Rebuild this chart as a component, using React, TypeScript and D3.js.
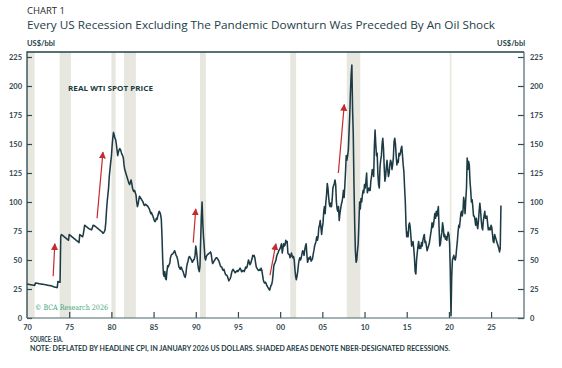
import React, { useRef, useEffect } from "react";
import * as d3 from "d3";

// real WTI spot price, US$/bbl (Jan 2026 dollars), monthly
const wti1970s = [
  29.2, 29.1, 29.0, 28.9, 28.8, 28.7, 28.6, 28.5, 28.4, 28.3, 28.2, 28.1,
  30.2, 30.1, 30.0, 29.9, 29.8, 29.6, 29.5, 29.4, 29.3, 29.2, 29.1, 29.0,
  28.9, 28.8, 28.7, 28.6, 28.5, 28.3, 28.2, 28.1, 28.0, 27.9, 27.8, 27.6,
  27.4, 27.2, 27.0, 26.8, 26.6, 26.5, 26.3, 26.2, 31.5, 31.3, 31.0, 30.8,
  70.5, 72.0, 71.5, 71.0, 70.5, 70.0, 69.5, 69.0, 68.5, 68.0, 67.5, 67.0,
  72.0, 71.5, 71.0, 70.5, 70.0, 69.5, 69.0, 68.5, 68.0, 67.5, 67.0, 66.5,
  66.0, 65.5, 65.0, 72.0, 71.5, 71.0, 70.5, 70.0, 72.0, 76.0, 80.0, 79.5,
  79.0, 78.5, 78.0, 77.5, 77.0, 76.8, 76.5, 76.2, 76.0, 78.0, 80.0, 79.8,
  79.5, 79.0, 78.5, 78.0, 77.5, 77.0, 76.5, 76.0, 75.5, 75.0, 74.5, 74.0,
  73.0, 73.5, 74.5, 76.0, 82.0, 92.0, 100, 106, 112, 122, 128, 134,
];
const wti1980s = [
  139, 148, 155, 160, 158, 155, 154, 150, 145, 140, 143, 145,
  146, 145, 143, 141, 140, 138, 132, 128, 126, 124, 122, 120,
  118, 116, 115, 117, 119, 116, 112, 110, 109, 110, 108, 106,
  100, 96, 98, 102, 105, 104, 103, 102, 101, 100, 98, 97,
  98, 98, 97, 97, 96, 95, 94, 92, 90, 91, 89, 88,
  86, 84, 83, 84, 86, 85, 88, 90, 92, 91, 89, 85,
  70, 50, 38, 36, 40, 34, 33, 40, 45, 44, 46, 47,
  52, 54, 55, 55, 56, 57, 58, 56, 54, 53, 51, 48,
  44, 43, 42, 44, 43, 41, 40, 38, 36, 35, 38, 44,
  47, 49, 52, 53, 52, 51, 50, 48, 49, 50, 51, 54,
];
const wti1990s = [
  62, 58, 52, 46, 42, 40, 45, 68, 88, 100, 82, 70,
  62, 52, 50, 53, 54, 55, 55, 56, 56, 57, 55, 50,
  47, 48, 49, 50, 51, 52, 52, 51, 50, 49, 47, 45,
  44, 44, 42, 41, 42, 40, 38, 37, 37, 36, 34, 32,
  33, 34, 36, 39, 41, 42, 41, 40, 39, 40, 40, 41,
  40, 41, 42, 43, 42, 40, 40, 41, 41, 40, 42, 44,
  43, 44, 47, 50, 48, 46, 47, 49, 51, 54, 53, 54,
  52, 48, 44, 43, 42, 41, 41, 42, 41, 43, 41, 37,
  33, 31, 30, 31, 30, 28, 27, 26, 25, 24, 26, 28,
  29, 32, 38, 45, 47, 48, 50, 53, 55, 56, 58, 59,
];
const wti2000s = [
  60, 62, 64, 56, 60, 64, 62, 63, 67, 65, 66, 56,
  55, 55, 52, 53, 56, 54, 52, 53, 50, 42, 36, 33,
  36, 40, 46, 50, 52, 50, 52, 55, 58, 57, 54, 59,
  62, 64, 55, 48, 50, 52, 51, 53, 49, 50, 51, 55,
  58, 62, 64, 66, 70, 67, 70, 78, 80, 84, 78, 72,
  78, 82, 92, 96, 90, 100, 106, 116, 112, 104, 98, 96,
  99, 96, 102, 112, 114, 116, 119, 115, 100, 94, 92, 96,
  84, 90, 94, 98, 100, 104, 110, 104, 114, 126, 140, 136,
  140, 145, 160, 175, 195, 210, 218, 180, 158, 115, 82, 58,
  48, 50, 58, 64, 82, 100, 94, 103, 100, 106, 110, 108,
];
const wti2010s = [
  115, 112, 118, 125, 108, 110, 112, 110, 110, 118, 122, 128,
  126, 122, 148, 162, 150, 140, 142, 124, 115, 112, 130, 136,
  140, 150, 155, 146, 130, 118, 122, 130, 136, 128, 122, 125,
  132, 136, 134, 128, 132, 138, 152, 155, 150, 140, 132, 136,
  134, 142, 140, 142, 146, 148, 140, 132, 126, 112, 100, 80,
  70, 74, 70, 80, 82, 78, 70, 62, 64, 66, 60, 52,
  40, 38, 50, 56, 62, 66, 60, 62, 60, 65, 62, 67,
  70, 72, 65, 66, 62, 58, 60, 62, 64, 68, 72, 76,
  82, 78, 80, 85, 90, 86, 92, 88, 92, 96, 78, 62,
  64, 70, 74, 82, 78, 70, 72, 68, 70, 67, 71, 74,
];
const wti2020s = [
  72, 64, 40, 2, 36, 50, 52, 54, 51, 50, 53, 60,
  66, 74, 80, 78, 84, 90, 92, 88, 92, 104, 100, 90,
  102, 112, 138, 128, 135, 132, 118, 110, 100, 102, 96, 88,
  88, 85, 80, 86, 80, 77, 84, 92, 99, 93, 84, 78,
  76, 84, 88, 92, 86, 86, 88, 82, 76, 78, 76, 76,
  80, 78, 72, 66, 65, 72, 70, 68, 66, 64, 62, 60,
  57, 60, 97,
];
const decades = [
  { start: 1970, values: wti1970s },
  { start: 1980, values: wti1980s },
  { start: 1990, values: wti1990s },
  { start: 2000, values: wti2000s },
  { start: 2010, values: wti2010s },
  { start: 2020, values: wti2020s },
];

// NBER recessions, start/end as decimal years
const recessions = [
  [1970.0, 1970.9], [1973.87, 1975.2], [1980.0, 1980.5], [1981.5, 1982.9],
  [1990.5, 1991.2], [2001.2, 2001.9], [2007.9, 2009.5], [2020.1, 2020.3],
];

// red oil-shock arrows: [year0, value0, year1, value1]
const shockArrows = [
  [1973.1, 36, 1973.3, 64],
  [1978.3, 86, 1979.0, 143],
  [1989.7, 65, 1990.0, 94],
  [1998.8, 37, 1999.5, 64],
  [2006.9, 125, 2007.6, 184],
];

const yTicks = [0, 25, 50, 75, 100, 125, 150, 175, 200, 225];
const xTicks = [1970, 1975, 1980, 1985, 1990, 1995, 2000, 2005, 2010, 2015, 2020, 2025];

const W = 562, H = 368;
const LEFT = 27, RIGHT = 524, TOP = 52, BOTTOM = 318;

export default function App() {
  const svgRef = useRef<SVGSVGElement>(null);

  useEffect(() => {
    const svg = d3.select(svgRef.current);
    svg.selectAll("*").remove();

    const series = decades.flatMap((d) =>
      d.values.map((v, i) => ({ t: d.start + i / 12, v }))
    );

    const x = d3.scaleLinear().domain([1970, 2028.9]).range([LEFT, RIGHT]);
    const y = d3.scaleLinear().domain([0, 225]).range([BOTTOM, 57]);

    const axisFont = "Lato, 'DejaVu Sans', sans-serif";
    const dark = "#1d3b44";

    // recession shading
    svg.append("g")
      .selectAll("rect")
      .data(recessions)
      .join("rect")
      .attr("x", (d) => x(d[0]))
      .attr("width", (d) => Math.max(1.5, x(d[1]) - x(d[0])))
      .attr("y", TOP)
      .attr("height", BOTTOM - TOP)
      .attr("fill", "#e7e7e0");

    // price line
    const line = d3.line<{ t: number; v: number }>()
      .x((d) => x(d.t))
      .y((d) => y(Math.max(0, d.v)));
    svg.append("path")
      .datum(series)
      .attr("d", line)
      .attr("fill", "none")
      .attr("stroke", dark)
      .attr("stroke-width", 1.55)
      .attr("stroke-linejoin", "round");

    // arrows
    const defs = svg.append("defs");
    defs.append("marker")
      .attr("id", "head")
      .attr("viewBox", "0 0 10 10")
      .attr("refX", 9)
      .attr("refY", 5)
      .attr("markerUnits", "userSpaceOnUse")
      .attr("markerWidth", 7)
      .attr("markerHeight", 7)
      .attr("orient", "auto")
      .append("path")
      .attr("d", "M0,0 L10,5 L0,10 z")
      .attr("fill", "#c42a2e");

    svg.append("g")
      .selectAll("line")
      .data(shockArrows)
      .join("line")
      .attr("x1", (d) => x(d[0]))
      .attr("y1", (d) => y(d[1]))
      .attr("x2", (d) => x(d[2]))
      .attr("y2", (d) => y(d[3]))
      .attr("stroke", "#c42a2e")
      .attr("stroke-width", 1.2)
      .attr("marker-end", "url(#head)");

    // axes
    const yl = svg.append("g").attr("transform", `translate(${LEFT},0)`)
      .call(d3.axisLeft(y).tickValues(yTicks).tickSizeInner(-5).tickSizeOuter(0).tickPadding(5));
    const yr = svg.append("g").attr("transform", `translate(${RIGHT},0)`)
      .call(d3.axisRight(y).tickValues(yTicks).tickSizeInner(-6).tickSizeOuter(0).tickPadding(6));
    const xb = svg.append("g").attr("transform", `translate(0,${BOTTOM})`)
      .call(d3.axisBottom(x).tickValues(xTicks)
        .tickFormat((d) => String(Number(d) % 100).padStart(2, "0"))
        .tickSizeInner(-6).tickSizeOuter(0).tickPadding(7));

    [yl, yr, xb].forEach((g) => {
      g.select(".domain").remove();
      g.selectAll("line").attr("stroke", "#2f4a52").attr("stroke-width", 1.2);
      g.selectAll("text")
        .attr("fill", "#33474e")
        .style("font-family", axisFont)
        .style("font-weight", 700)
        .style("font-size", "7.5px");
    });
    xb.selectAll("line").filter((d) => d === 1970).remove();

    // frame: left axis, top border, right axis, bottom axis
    svg.append("path")
      .attr("d", `M${LEFT},${BOTTOM}V${TOP}H${RIGHT}`)
      .attr("fill", "none").attr("stroke", "#24424b").attr("stroke-width", 1.3);
    svg.append("path")
      .attr("d", `M${LEFT},${BOTTOM}H${RIGHT}V${TOP}`)
      .attr("fill", "none").attr("stroke", "#4d666d").attr("stroke-width", 1.2);

    // texts
    svg.append("text").attr("x", 27).attr("y", 13.5).text("CHART 1")
      .attr("fill", "#2a2a2a").style("font-family", "'Open Sans', sans-serif").style("font-size", "9.5px");
    svg.append("text").attr("x", 27).attr("y", 29)
      .text("Every US Recession Excluding The Pandemic Downturn Was Preceded By An Oil Shock")
      .attr("fill", "#1e3d47").attr("textLength", 468).attr("lengthAdjust", "spacingAndGlyphs")
      .style("font-family", "'Open Sans', sans-serif").style("font-size", "11px");
    svg.append("text").attr("x", 27).attr("y", 46).text("US$/bbl")
      .attr("fill", "#1e3d47").style("font-family", axisFont).style("font-weight", 700).style("font-size", "7.5px");
    svg.append("text").attr("x", 525).attr("y", 46).attr("text-anchor", "end").text("US$/bbl")
      .attr("fill", "#1e3d47").style("font-family", axisFont).style("font-weight", 700).style("font-size", "7.5px");
    svg.append("text").attr("x", 68).attr("y", 90.5).text("REAL WTI SPOT PRICE")
      .attr("fill", dark).attr("textLength", 85).attr("lengthAdjust", "spacingAndGlyphs")
      .style("font-family", "'Open Sans', sans-serif").style("font-weight", 700).style("font-size", "7px");
    svg.append("text").attr("x", 35).attr("y", 309.5).text("© BCA Research 2026")
      .attr("fill", "#3fa57c").attr("textLength", 73).attr("lengthAdjust", "spacingAndGlyphs")
      .style("font-family", "'DejaVu Serif', serif").style("font-size", "7.5px");
    svg.append("text").attr("x", 30).attr("y", 341.8).text("SOURCE: EIA.")
      .attr("fill", "#1e3d47").attr("textLength", 33).attr("lengthAdjust", "spacingAndGlyphs")
      .style("font-family", axisFont).style("font-weight", 700).style("font-size", "6.5px");
    svg.append("text").attr("x", 30).attr("y", 350.8)
      .text("NOTE: DEFLATED BY HEADLINE CPI, IN JANUARY 2026 US DOLLARS. SHADED AREAS DENOTE NBER-DESIGNATED RECESSIONS.")
      .attr("fill", "#1e3d47").attr("textLength", 420).attr("lengthAdjust", "spacingAndGlyphs")
      .style("font-family", axisFont).style("font-weight", 700).style("font-size", "6.5px");
  }, []);

  return (
    <svg
      ref={svgRef}
      width={W}
      height={H}
      style={{ position: "absolute", left: 0, top: 0, background: "#fff" }}
    />
  );
}
